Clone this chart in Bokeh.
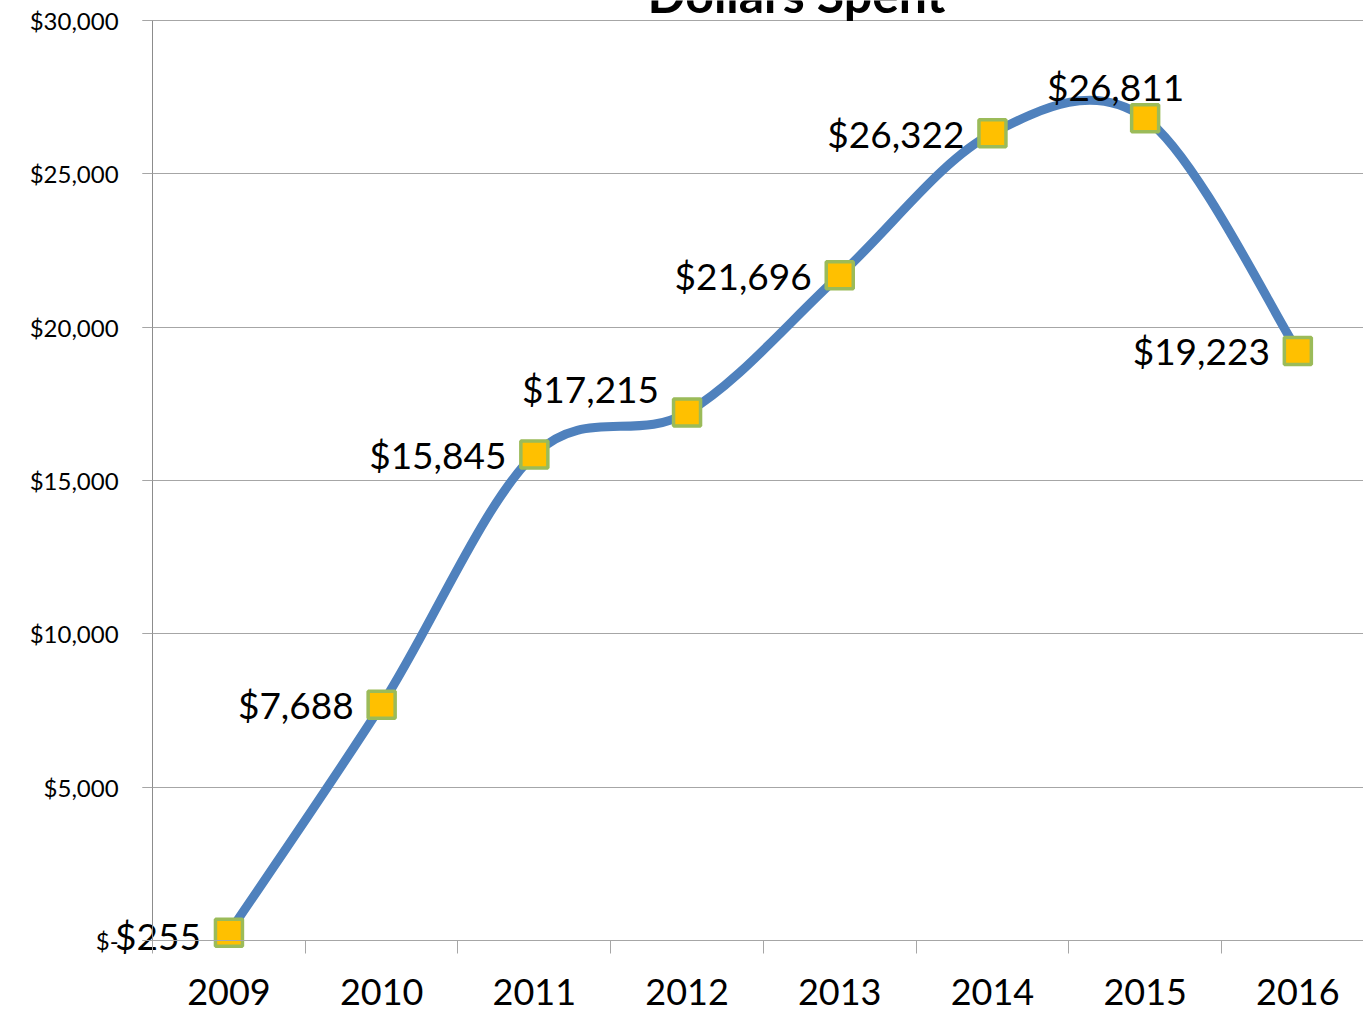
from bokeh.plotting import figure
from bokeh.models import Range1d, FixedTicker, ColumnDataSource
from bokeh.core.properties import value
from bokeh.embed import file_html
from bokeh.resources import INLINE

# ---- data ----
years = ["2009", "2010", "2011", "2012", "2013", "2014", "2015", "2016"]
dollars = [255, 7688, 15845, 17215, 21696, 26322, 26811, 19223]
y_ticks = [0, 5000, 10000, 15000, 20000, 25000, 30000]
y_tick_labels = ["$-", "$5,000", "$10,000", "$15,000", "$20,000", "$25,000", "$30,000"]
title_text = "Dollars Spent"

# ---- label placement style (pixel offsets, screen: +y is down) ----
label_dx = [-28, -28, -28, -28, -28, -28, 39, -28]
label_dy = [3, 0, 0, -24, 0, 0, -32, 0]

xs = list(range(len(years)))
labels = ["${:,}".format(v) for v in dollars]

PX_PER_CAT = 152.6
X_START = -0.5 - 152 / PX_PER_CAT
Y_TOP = 30000 * 940 / 920.0
Y_BOTTOM = -30000 * 73 / 920.0

p = figure(width=1363, height=1013, output_backend="svg", toolbar_location=None,
           x_range=Range1d(X_START, 7.43), y_range=Range1d(Y_BOTTOM, Y_TOP),
           min_border_left=0, min_border_right=0, min_border_top=0,
           min_border_bottom=0)
p.outline_line_color = None
p.background_fill_color = "white"
p.border_fill_color = "white"

# grid
p.xgrid.grid_line_color = None
p.ygrid.grid_line_color = "#A6A6A6"
p.ygrid.grid_line_width = 1
p.ygrid.ticker = FixedTicker(ticks=y_ticks)
p.ygrid.cross_bounds = (-0.5 - 10 / PX_PER_CAT, 7.43)

# y axis (drawn at the first category boundary)
yax = p.yaxis[0]
yax.fixed_location = -0.5
yax.bounds = (0, 30000)
yax.ticker = FixedTicker(ticks=y_ticks)
yax.major_label_overrides = {t: l for t, l in zip(y_ticks, y_tick_labels)}
yax.axis_line_color = "#8C8C8C"
yax.major_tick_line_color = "#A6A6A6"
yax.major_tick_out = 10
yax.major_tick_in = 0
yax.minor_tick_line_color = None
yax.major_label_text_font = "Lato"
yax.major_label_text_font_size = "24px"
yax.major_label_text_color = "black"
yax.major_label_standoff = 24

# x axis at $0: labels at centers, ticks at category boundaries
xax = p.xaxis[0]
xax.fixed_location = 0
xax.bounds = (-0.5, 7.43)
xax.ticker = FixedTicker(ticks=xs, minor_ticks=[i - 0.5 for i in range(len(years) + 1)])
xax.major_label_overrides = {i: y for i, y in enumerate(years)}
xax.axis_line_color = "#A6A6A6"
xax.major_tick_out = 0
xax.major_tick_in = 0
xax.minor_tick_out = 13
xax.minor_tick_in = 0
xax.minor_tick_line_color = "#A6A6A6"
xax.major_label_text_font = "Lato"
xax.major_label_text_font_size = "36px"
xax.major_label_text_color = "black"
xax.major_label_standoff = 25

# smoothed line (Catmull-Rom style bezier, as Excel's smoothed line)
n = len(dollars)
x0, y0, x1, y1, cx0, cy0, cx1, cy1 = [], [], [], [], [], [], [], []
for i in range(n - 1):
    pm = max(i - 1, 0)
    pn = min(i + 2, n - 1)
    x0.append(xs[i]); y0.append(dollars[i])
    x1.append(xs[i + 1]); y1.append(dollars[i + 1])
    cx0.append(xs[i] + (xs[i + 1] - xs[pm]) / 6.0)
    cy0.append(dollars[i] + (dollars[i + 1] - dollars[pm]) / 6.0)
    cx1.append(xs[i + 1] - (xs[pn] - xs[i]) / 6.0)
    cy1.append(dollars[i + 1] - (dollars[pn] - dollars[i]) / 6.0)
p.bezier(x0=x0, y0=y0, x1=x1, y1=y1, cx0=cx0, cy0=cy0, cx1=cx1, cy1=cy1,
         line_color="#4F81BD", line_width=9, line_cap="round")

src = ColumnDataSource(dict(x=xs, y=dollars, label=labels, dx=label_dx, dy=label_dy))
p.scatter("x", "y", source=src, marker="square", size=27,
          fill_color="#FFC000", line_color="#9BBB59", line_width=3.5)
p.text("x", "y", text="label", source=src, x_offset="dx", y_offset="dy",
       text_align="right", text_baseline="middle",
       text_font=value("Lato"), text_font_size="37px", text_color="black")

# chart title (top is cut off in the reference)
p.text(x=[3.716], y=[30261], text=[title_text], y_offset=-18, text_align="center",
       text_baseline="alphabetic", text_font=value("Lato"), text_font_style="bold",
       text_font_size="50px", text_color="black")

open("out.html", "w").write(file_html(p, INLINE))
